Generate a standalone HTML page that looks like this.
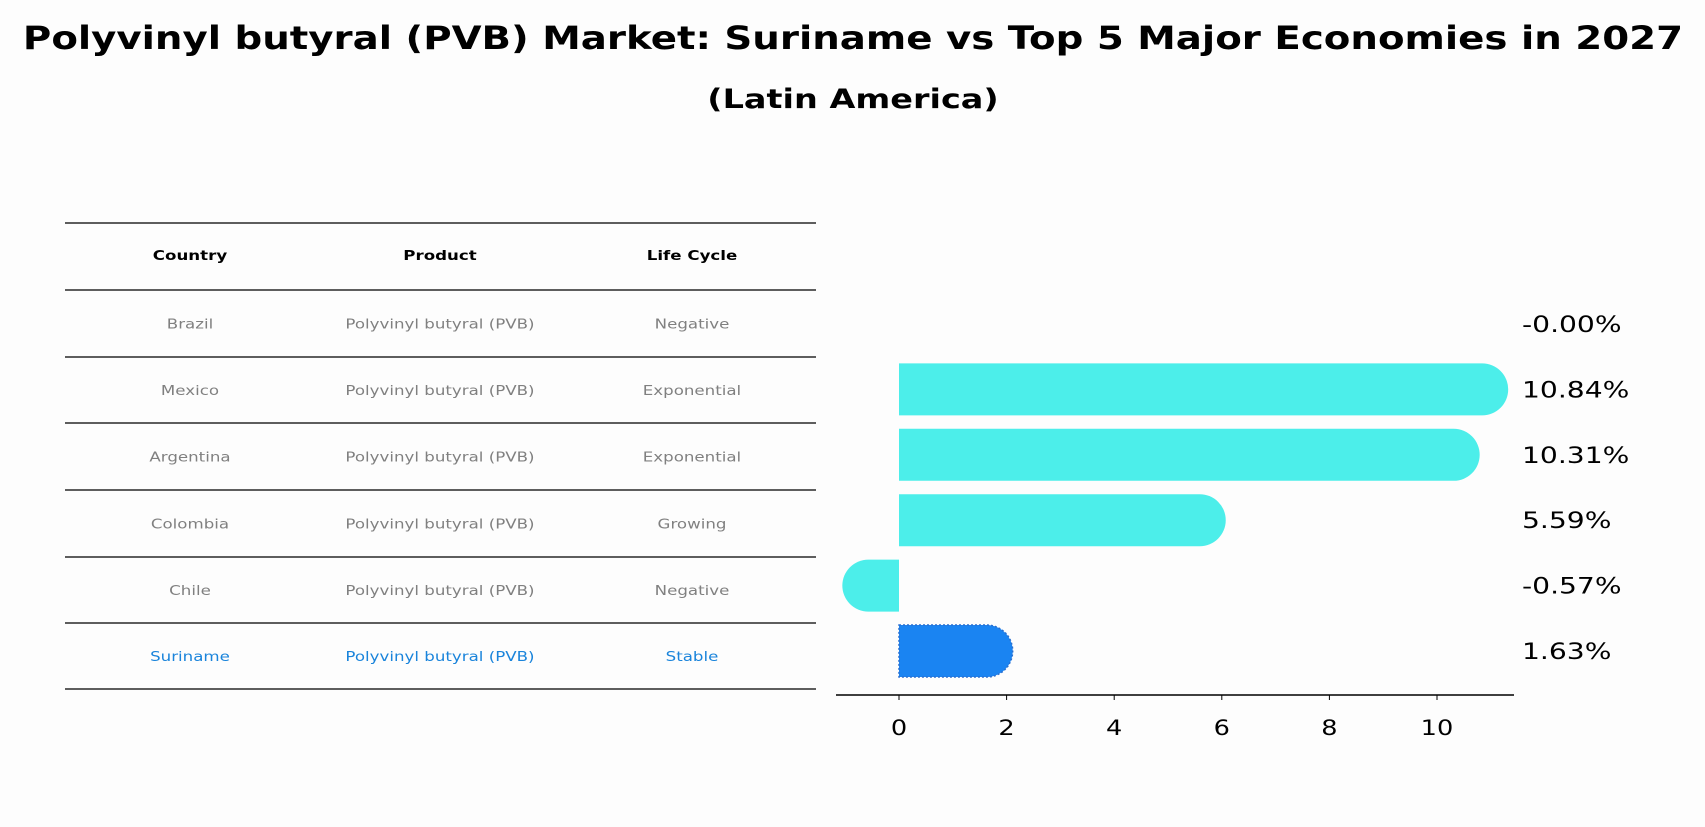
<!DOCTYPE html>
<html><head><meta charset="utf-8"><style>
body{margin:0;background:#fdfdfd;font-family:"DejaVu Sans","Liberation Sans",sans-serif;}
</style></head><body>
<svg width="1705" height="823" xmlns="http://www.w3.org/2000/svg" font-family="DejaVu Sans, Liberation Sans, sans-serif">
<rect width="1705" height="823" fill="#fdfdfd"/>
<text class="st" data-f="1.21" x="853" y="49" text-anchor="middle" font-size="32" font-weight="bold">Polyvinyl butyral (PVB) Market: Suriname vs Top 5 Major Economies in 2027</text>
<text class="st" data-f="1.24" x="853" y="108" text-anchor="middle" font-size="27" font-weight="bold">(Latin America)</text>
<g id="table"></g>
<g id="bars"></g>
</svg>
<script>
const countries=["Brazil","Mexico","Argentina","Colombia","Chile","Suriname"];
const products=["Polyvinyl butyral (PVB)","Polyvinyl butyral (PVB)","Polyvinyl butyral (PVB)","Polyvinyl butyral (PVB)","Polyvinyl butyral (PVB)","Polyvinyl butyral (PVB)"];
const lifecycles=["Negative","Exponential","Exponential","Growing","Negative","Stable"];
const values=[-0.00,10.84,10.31,5.59,-0.57,1.63];
const labels=["-0.00%","10.84%","10.31%","5.59%","-0.57%","1.63%"];
const ticks=[0,2,4,6,8,10];
const NS="http://www.w3.org/2000/svg";
function mk(t,a,p,txt){const e=document.createElementNS(NS,t);for(const k in a)e.setAttribute(k,a[k]);if(txt!==undefined)e.textContent=txt;p.appendChild(e);return e;}
const tb=document.getElementById('table');
const lineY=[223,290,357,423,490,557,623,689];
lineY.forEach(y=>{const l=mk('line',{x1:65,x2:816,y1:y,y2:y,stroke:'#000','stroke-width':1.2},tb);

});
const colX=[190,440,692];
["Country","Product","Life Cycle"].forEach((h,i)=>{const t=mk('text',{x:colX[i],y:260,'text-anchor':'middle','font-size':13,'font-weight':'bold',class:'st','data-f':1.28},tb,h);

});
countries.forEach((c,r)=>{const y=(lineY[r+1]+lineY[r+2])/2+5;const col=r===5?'#1a84db':'#808080';
[c,products[r],lifecycles[r]].forEach((v,i)=>{const t=mk('text',{x:colX[i],y:y,'text-anchor':'middle','font-size':13,fill:col,class:'st','data-f':1.28},tb,v);

});});
const g=document.getElementById('bars');
const x0=899,ppu=53.8;const X=v=>x0+v*ppu;
const Y=i=>324+i*65.4;const h=52,r=26;
values.forEach((v,i)=>{const yc=Y(i);const col=i===5?'#1a84f2':'#4ceeea';
if(Math.abs(v)>0.001){const xs=X(0),xe=X(v);const dir=v>0?1:-1;
const d=`M${xs},${yc-h/2} L${xe},${yc-h/2} A${r},${r} 0 0 ${dir>0?1:0} ${xe},${yc+h/2} L${xs},${yc+h/2} Z`;
const p=mk('path',{d:d,fill:col},g);
if(i===5){p.setAttribute('stroke','#2a6fd0');p.setAttribute('stroke-dasharray','2,2');p.setAttribute('stroke-width','1.5');}

}
const t=mk('text',{x:1522,y:yc+8,'font-size':22,class:'st','data-f':1.28},g,labels[i]);

});
const ax=mk('line',{x1:836,x2:1514,y1:695,y2:695,stroke:'#000','stroke-width':1.5},g);


ticks.forEach(t=>{mk('line',{x1:X(t),x2:X(t),y1:695,y2:700,stroke:'#000'},g);
const tx=mk('text',{x:X(t),y:735,'text-anchor':'middle','font-size':21,class:'st','data-f':1.22},g,String(t));

});
document.querySelectorAll('.st').forEach(e=>{const f=parseFloat(e.getAttribute('data-f'));const w=e.getComputedTextLength();
e.setAttribute('textLength',(w*f).toFixed(1));e.setAttribute('lengthAdjust','spacingAndGlyphs');});
</script>
</body></html>
